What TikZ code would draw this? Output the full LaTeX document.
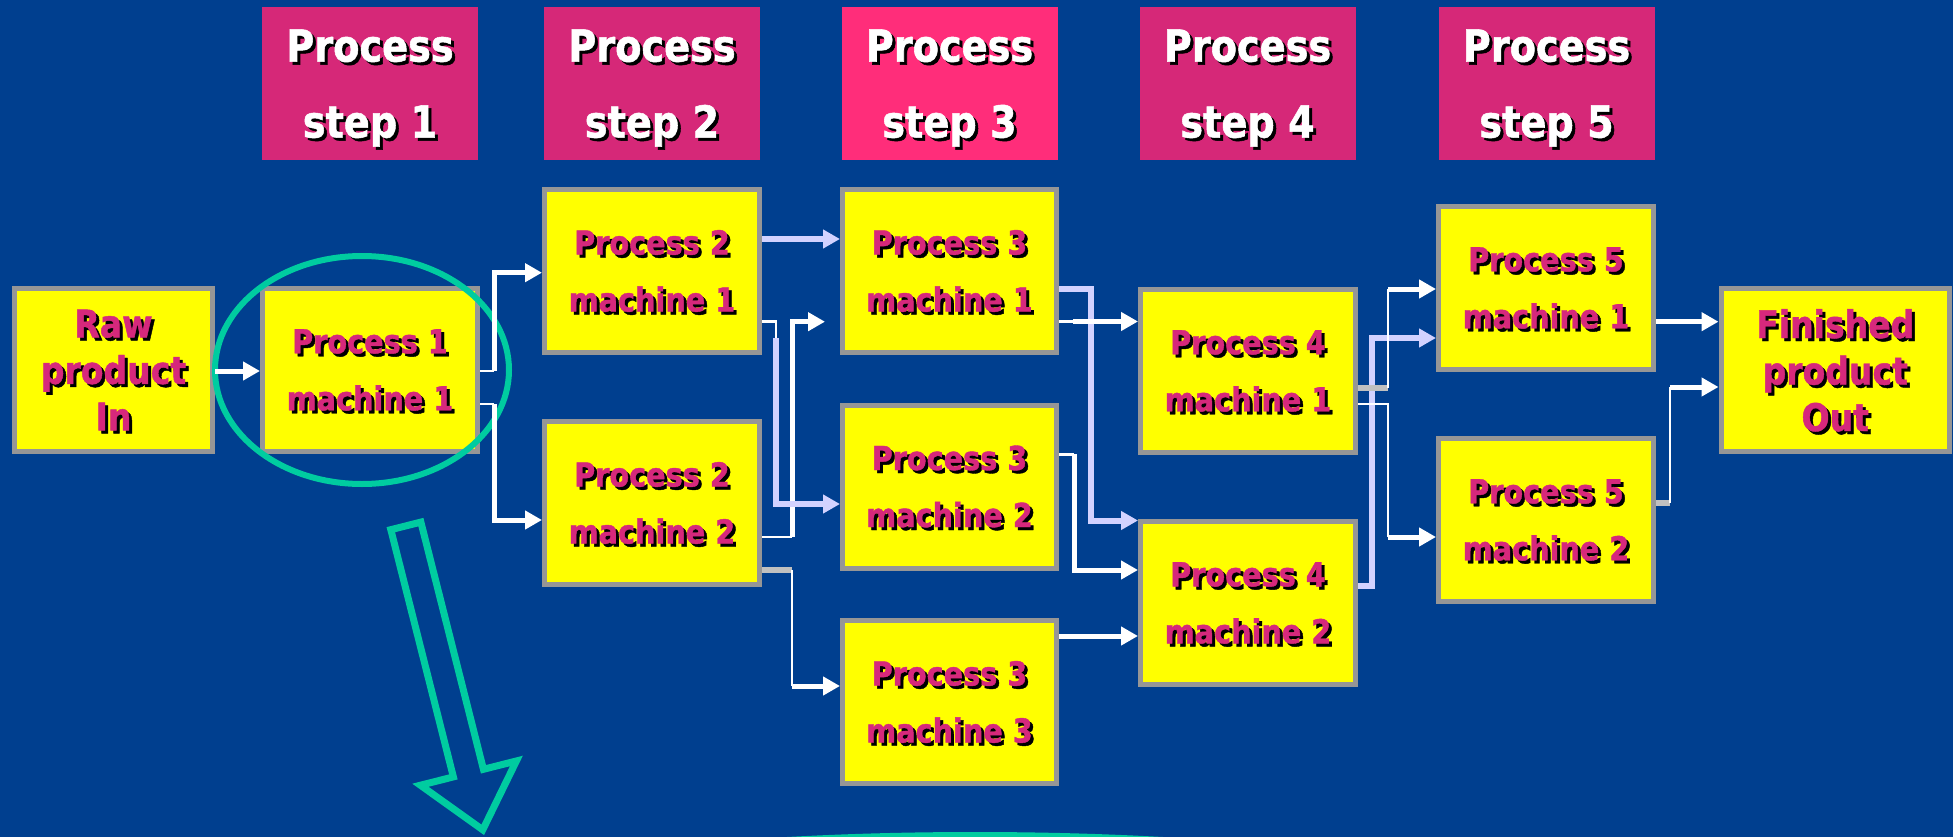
\documentclass[tikz,border=0pt]{standalone}
\usepackage{fontspec}
\usetikzlibrary{arrows.meta}
\newfontfamily\flowfont{DejaVu Sans Bold}[FakeStretch=0.87, FakeBold=1.2]

\definecolor{bg}{RGB}{0,63,143}
\definecolor{hdrpink}{RGB}{214,40,120}
\definecolor{hdrhot}{RGB}{255,45,122}
\definecolor{boxyellow}{RGB}{255,255,0}
\definecolor{boxgray}{RGB}{150,150,150}
\definecolor{txtpink}{RGB}{214,40,124}
\definecolor{ringteal}{RGB}{0,204,160}
\definecolor{lav}{RGB}{210,210,255}
\definecolor{stubgray}{RGB}{192,192,192}

% text with a dark drop shadow
\newcommand\shd[1]{\makebox[0pt][l]{\hspace*{3pt}\raisebox{-3pt}[0pt][0pt]{\color{black}#1}}#1}

\tikzset{
  hdr/.style={fill=hdrpink, minimum width=216pt, minimum height=153pt, inner sep=0pt,
    text=white, align=center, text depth=0pt,
    font=\flowfont\fontsize{44}{76}\selectfont},
  mbox/.style={draw=boxgray, line width=5pt, fill=boxyellow, minimum width=215pt,
    minimum height=163pt, inner sep=0pt, text=txtpink, align=center,
    font=\flowfont\fontsize{33}{57}\selectfont},
  endbox/.style={mbox, font=\flowfont\fontsize{38}{46.5}\selectfont},
  wthick/.style={draw=white, line width=5pt},
  wthin/.style={draw=white, line width=2.5pt},
  lavline/.style={draw=lav, line width=6pt},
  stub/.style={draw=stubgray, line width=6pt},
  arrowend/.style={-{Triangle[length=17pt,width=18pt]}},
}

\begin{document}
\begin{tikzpicture}[x=1pt, y=-1pt]
\useasboundingbox (0,0) rectangle (1953,837);
\fill[bg] (0,0) rectangle (1953,837);

% step headers
\node[hdr] (h1) at (370,83.5) {\shd{Process}\\\shd{step 1}};
\node[hdr] (h2) at (652,83.5) {\shd{Process}\\\shd{step 2}};
\node[hdr, fill=hdrhot] (h3) at (949.5,83.5) {\shd{Process}\\\shd{step 3}};
\node[hdr] (h4) at (1247.5,83.5) {\shd{Process}\\\shd{step 4}};
\node[hdr] (h5) at (1546.5,83.5) {\shd{Process}\\\shd{step 5}};

% machines
\node[endbox, minimum width=198pt] (raw) at (113.5,370) {\shd{Raw}\\\shd{product}\\\shd{In}};
\node[mbox] (p1) at (370,370) {\shd{Process 1}\\\shd{machine 1}};
\node[mbox] (p2a) at (652,271) {\shd{Process 2}\\\shd{machine 1}};
\node[mbox] (p2b) at (652,503) {\shd{Process 2}\\\shd{machine 2}};
\node[mbox, minimum width=214pt] (p3a) at (949.5,271) {\shd{Process 3}\\\shd{machine 1}};
\node[mbox, minimum width=214pt] (p3b) at (949.5,486.5) {\shd{Process 3}\\\shd{machine 2}};
\node[mbox, minimum width=214pt] (p3c) at (949.5,702) {\shd{Process 3}\\\shd{machine 3}};
\node[mbox] (p4a) at (1248,371) {\shd{Process 4}\\\shd{machine 1}};
\node[mbox] (p4b) at (1248,603) {\shd{Process 4}\\\shd{machine 2}};
\node[mbox] (p5a) at (1546,288) {\shd{Process 5}\\\shd{machine 1}};
\node[mbox] (p5b) at (1546,520) {\shd{Process 5}\\\shd{machine 2}};
\node[endbox, minimum width=228.5pt] (fin) at (1835.25,370.35) {\shd{Finished}\\\shd{product}\\\shd{Out}};

% highlight ring around the first machine
\draw[ringteal, line width=6pt] (362,370) ellipse [x radius=147, y radius=114];

% step 1 -> step 2
\draw[wthick, arrowend] (raw.east |- 0,371) -- (p1.west |- 0,371);
\draw[wthin] (p1.east |- 0,371) -- (494,371);
\draw[wthick, arrowend] (494,371) |- (p2a.west |- 0,272.7);
\draw[wthin] (p1.east |- 0,404) -- (494,404);
\draw[wthick, arrowend] (494,404) |- (p2b.west |- 0,520);

% step 2 -> step 3
\draw[lavline, arrowend] (p2a.east |- 0,239) -- (p3a.west |- 0,239);
\coordinate (gap3) at (825,321.7);
\draw[wthin] (p2b.east |- 0,537) -- (792,537);
\draw[wthick, arrowend] (792,537) |- (gap3);
\draw[wthin] (p2a.east |- 0,321.7) -| (776,338);
\draw[lavline, arrowend] (776,338) |- (p3b.west |- 0,504);
\draw[stub] (p2b.east |- 0,570) -- (792,570);
\draw[wthin] (792,570) -- (792,686);
\draw[wthick, arrowend] (792,686) -- (p3c.west |- 0,686);

% step 3 -> step 4 and step 4 -> step 5 (lavender routes)
\draw[lavline, arrowend] (p3a.east |- 0,289) -| (1090.7,520.5) -- (p4b.west |- 0,520.5);
\draw[lavline, arrowend] (p4b.east |- 0,585.5) -| (1372,338) -- (p5a.west |- 0,338);

% step 3 -> step 4
\draw[wthin] (p3a.east |- 0,321.5) -- (1073,321.5);
\draw[wthick, arrowend] (1073,321.5) -- (p4a.west |- 0,321.5);
\draw[wthin] (p3b.east |- 0,454.4) -- (1074,454.4);
\draw[wthick, arrowend] (1074,454.4) |- (p4b.west |- 0,570);
\draw[wthick, arrowend] (p3c.east |- 0,636) -- (p4b.west |- 0,636);

% step 4 -> step 5
\draw[stub] (p4a.east |- 0,388) -- (1388,388);
\draw[wthin] (1388,388) -- (1388,289);
\draw[wthick, arrowend] (1388,289) -- (p5a.west |- 0,289);
\draw[wthin] (p4a.east |- 0,404) -| (1388,537);
\draw[wthick, arrowend] (1388,537) -- (p5b.west |- 0,537);

% step 5 -> finished product
\draw[wthick, arrowend] (p5a.east |- 0,321.7) -- (fin.west |- 0,321.7);
\draw[stub] (p5b.east |- 0,503) -- (1670,503);
\draw[wthin] (1670,503) -- (1670,387);
\draw[wthick, arrowend] (1670,387) -- (fin.west |- 0,387);

% hollow pointer arrow
\begin{scope}[shift={(405,522.5)}, rotate=-75.8]
  \draw[ringteal, line width=7pt] (3.5,15.5) -- (258.5,15.5) -- (258.5,49.5) -- (317,0)
    -- (258.5,-49.5) -- (258.5,-15.5) -- (3.5,-15.5) -- cycle;
\end{scope}

% edge of the ring below
\begin{scope}
  \clip (0,0) rectangle (1953,837);
  \draw[ringteal, line width=5pt] (975,934.5) ellipse [x radius=600, y radius=100];
\end{scope}
\end{tikzpicture}
\end{document}
